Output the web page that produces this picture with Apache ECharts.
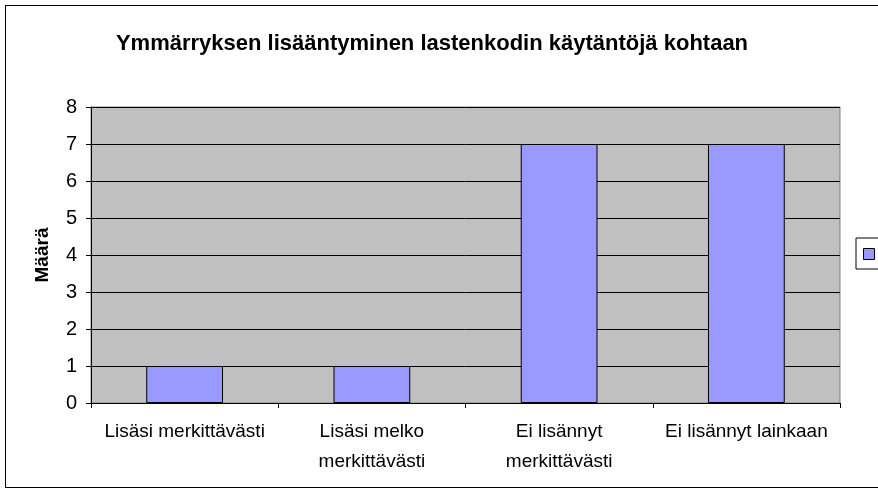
<!DOCTYPE html>
<html>
<head>
<meta charset="utf-8">
<script src="https://cdn.jsdelivr.net/npm/echarts@6/dist/echarts.min.js"></script>
<style>
  html, body { margin: 0; padding: 0; background: #fff; }
  #wrap { position: relative; width: 878px; height: 492px; overflow: hidden; }
  #frame { position: absolute; left: 5px; top: 5px; width: 890px; height: 481px; border: 1px solid #000; }
  #main { position: absolute; left: 0; top: 0; width: 878px; height: 492px; }
</style>
</head>
<body>
<div id="wrap">
  <div id="frame"></div>
  <div id="main"></div>
</div>
<script>
// kategoriat ja arvot
const categories = ['Lisäsi merkittävästi', 'Lisäsi melko\nmerkittävästi', 'Ei lisännyt\nmerkittävästi', 'Ei lisännyt lainkaan']
const values = [1, 1, 7, 7]
const yTicks = [0, 1, 2, 3, 4, 5, 6, 7, 8]

const font = '"Liberation Sans", Arial, sans-serif'

var chart = echarts.init(document.getElementById('main'))
var option = {
  animation: false,
  title: {
    text: 'Ymmärryksen lisääntyminen lastenkodin käytäntöjä kohtaan',
    left: 427,
    textAlign: 'center',
    top: 28,
    textStyle: {
      fontFamily: font,
      fontSize: 22,
      fontWeight: 'bold',
      color: '#000',
      letterSpacing: -1.1
    }
  },
  legend: {
    left: 856,
    top: 238,
    padding: [10, 20, 9, 7],
    itemWidth: 11,
    itemHeight: 11,
    borderColor: '#000',
    borderWidth: 1,
    borderRadius: 0,
    icon: 'rect',
    itemStyle: { borderColor: '#000', borderWidth: 1 },
    textStyle: { fontSize: 11 },
    data: [' ']
  },
  grid: {
    left: 91,
    right: 38,
    top: 107,
    bottom: 89,
    show: true,
    backgroundColor: '#C0C0C0',
    borderColor: '#808080',
    borderWidth: 1
  },
  xAxis: {
    type: 'category',
    data: categories,
    axisLine: { lineStyle: { color: '#000', width: 1 } },
    axisTick: { show: true, length: 5, lineStyle: { color: '#000' } },
    axisLabel: {
      interval: 0,
      margin: 14,
      color: '#000',
      fontFamily: font,
      fontSize: 19,
      lineHeight: 30,
      letterSpacing: -0.3
    }
  },
  yAxis: {
    type: 'value',
    min: yTicks[0],
    max: yTicks[yTicks.length - 1],
    interval: 1,
    name: 'Määrä',
    nameLocation: 'middle',
    nameGap: 39,
    nameTextStyle: {
      fontFamily: font,
      fontSize: 19,
      fontWeight: 'bold',
      color: '#000',
      letterSpacing: -0.5
    },
    axisLine: { show: true, lineStyle: { color: '#000', width: 1 } },
    axisTick: { show: true, length: 5, lineStyle: { color: '#000' } },
    axisLabel: {
      margin: 14,
      color: '#000',
      fontFamily: font,
      fontSize: 20
    },
    splitLine: { show: true, lineStyle: { color: '#000', width: 1 } }
  },
  series: [
    {
      name: ' ',
      type: 'bar',
      data: values,
      barWidth: '41%',
      itemStyle: {
        color: '#9999FF',
        borderColor: '#000',
        borderWidth: 1
      }
    }
  ]
}

option && chart.setOption(option)
</script>
</body>
</html>
